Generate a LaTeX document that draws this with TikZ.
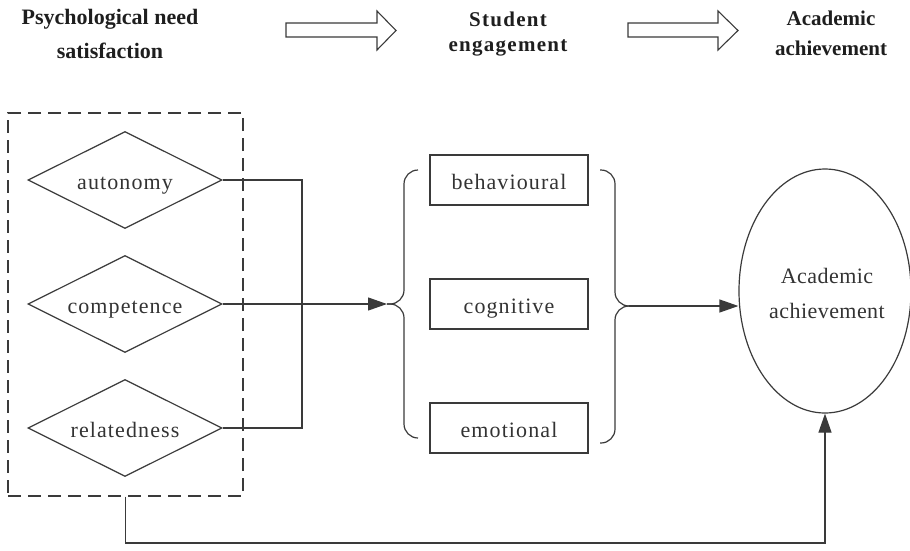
\documentclass[tikz,border=0pt]{standalone}
\usepackage{fontspec}
\setmainfont{Liberation Serif}
\newfontfamily\spaced[LetterSpace=5]{Liberation Serif}
\newfontfamily\ellspaced[LetterSpace=2]{Liberation Serif}
\newfontfamily\headspaced[LetterSpace=6]{Liberation Serif}
\usetikzlibrary{shapes.geometric,arrows.meta}
\definecolor{ln}{HTML}{3A3A3A}
\definecolor{tx}{HTML}{333333}
\definecolor{hd}{HTML}{1E1E1E}
\begin{document}
\begin{tikzpicture}[x=1pt,y=-1pt,
  every path/.style={line width=1.2pt},
  conn/.style={draw=ln, line width=1.2pt},
  tip/.style={-{Triangle[length=19pt,width=13pt]}},
  dia/.style={diamond, draw=ln, line width=1.2pt, aspect=2,
    minimum width=194pt, minimum height=97pt, inner sep=0pt,
    text=tx, font=\spaced\fontsize{22}{26}\selectfont,
    text height=18pt, text depth=0pt},
  dimbox/.style={rectangle, draw=ln, line width=1.2pt,
    minimum width=158pt, minimum height=50pt, inner sep=0pt,
    text=tx, font=\spaced\fontsize{22}{26}\selectfont,
    text height=18pt, text depth=0pt},
  brace/.style={draw=ln, line width=1.2pt, rounded corners=14pt},
  hollow/.style={draw=ln, line width=1.1pt, fill=white},
  head/.style={anchor=base, align=center, inner sep=0pt, text=hd}
]
\useasboundingbox (0,0) rectangle (910,550);

% headings (anchor base = baseline of last line)
\node[head, font=\bfseries\fontsize{22}{34}\selectfont] (h1) at (110,58) {Psychological need\\satisfaction};
\node[head, font=\headspaced\bfseries\fontsize{21}{25}\selectfont] (h2) at (508,51) {Student\\engagement};
\node[head, font=\bfseries\fontsize{21}{30}\selectfont] (h3) at (831,55) {Academic\\achievement};

% hollow block arrows
\draw[hollow] (286,23) -- (377,23) -- (377,11) -- (396,30.5) -- (377,50) -- (377,37) -- (286,37) -- cycle;
\draw[hollow] (628,23) -- (718,23) -- (718,11) -- (738,30.5) -- (718,50) -- (718,37) -- (628,37) -- cycle;

% dashed group
\node[draw=ln, dashed, dash pattern=on 13pt off 7pt, line width=1.2pt,
  minimum width=235pt, minimum height=383pt, inner sep=0pt] (grp) at (125.5,304.5) {};

% diamonds
\node[dia] (aut) at (125,180) {autonomy};
\node[dia] (com) at (125,304) {competence};
\node[dia] (rel) at (125,428) {relatedness};

% engagement boxes
\node[dimbox] (beh) at (509,180) {behavioural};
\node[dimbox] (cog) at (509,304) {cognitive};
\node[dimbox] (emo) at (509,428) {emotional};

% ellipse
\node[ellipse, draw=ln, line width=1.2pt, minimum width=172pt, minimum height=244pt, inner sep=0pt] (ach) at (825,291) {};
\node[anchor=base, align=center, inner sep=0pt, text=tx,
  font=\ellspaced\fontsize{22}{35}\selectfont] (achtxt) at (827,318) {Academic\\achievement};

% braces
\coordinate (lb) at (387,304);
\coordinate (rb) at (629,306);
\draw[brace] (418,170) -- (404,170) -- (404,304) -- (lb);
\draw[brace] (lb) -- (404,304) -- (404,438) -- (418,438);
\draw[brace] (600,170) -- (615,170) -- (615,306) -- (rb);
\draw[brace] (rb) -- (615,306) -- (615,443) -- (600,443);

% connectors
\coordinate (jx) at (302,0);
\coordinate (bot) at (0,543);
\draw[conn] (aut.east) -- (aut.east -| jx) -- (rel.east -| jx) -- (rel.east);
\draw[conn, tip] (com.east) -- (lb);
\draw[conn, tip] (rb) -- (ach.west |- rb);
\draw[conn, tip] (grp.south) -- (grp.south |- bot) -| (ach.south);
\end{tikzpicture}
\end{document}
